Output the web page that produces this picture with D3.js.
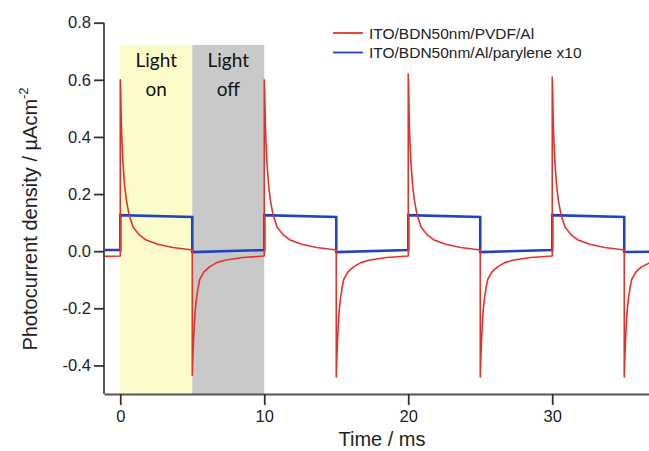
<!DOCTYPE html>
<html>
<head>
<meta http-equiv='Content-Type' content='text/html;charset=utf-8'/>
<title>Photocurrent</title>
<script src='https://d3js.org/d3.v7.min.js'></script>
<style>
  body { margin: 0; background: #fff; }
  text { font-family: Arial, 'Liberation Sans', sans-serif; }
</style>
</head>
<body>
<script>
'use strict';

// red trace: ITO/BDN50nm/PVDF/Al  [time ms, current]
const redSeries = [
  [-1.1,-0.018],[0,-0.017],
  [0,0.60],[0.03,0.56],[0.07,0.45],[0.12,0.38],[0.19,0.31],[0.3,0.23],[0.42,0.18],[0.6,0.13],[0.88,0.085],[1.3,0.058],[1.8,0.039],[2.6,0.024],[3.65,0.013],[5,0.004],
  [5,-0.435],[5.05,-0.36],[5.11,-0.29],[5.2,-0.21],[5.28,-0.17],[5.4,-0.13],[5.51,-0.10],[5.8,-0.073],[6.2,-0.055],[6.7,-0.04],[7.35,-0.031],[8.5,-0.022],[10,-0.017],
  [10,0.60],[10.03,0.56],[10.07,0.45],[10.12,0.38],[10.19,0.31],[10.3,0.23],[10.42,0.18],[10.6,0.13],[10.88,0.085],[11.3,0.058],[11.8,0.039],[12.6,0.024],[13.65,0.013],[15,0.004],
  [15,-0.44],[15.05,-0.36],[15.11,-0.29],[15.2,-0.21],[15.28,-0.17],[15.4,-0.13],[15.51,-0.10],[15.8,-0.073],[16.2,-0.055],[16.7,-0.04],[17.35,-0.031],[18.5,-0.022],[20,-0.017],
  [20,0.62],[20.03,0.57],[20.07,0.45],[20.12,0.38],[20.19,0.31],[20.3,0.23],[20.42,0.18],[20.6,0.13],[20.88,0.085],[21.3,0.058],[21.8,0.039],[22.6,0.024],[23.65,0.013],[25,0.004],
  [25,-0.44],[25.05,-0.36],[25.11,-0.29],[25.2,-0.21],[25.28,-0.17],[25.4,-0.13],[25.51,-0.10],[25.8,-0.073],[26.2,-0.055],[26.7,-0.04],[27.35,-0.031],[28.5,-0.022],[30,-0.017],
  [30,0.61],[30.03,0.56],[30.07,0.45],[30.12,0.38],[30.19,0.31],[30.3,0.23],[30.42,0.18],[30.6,0.13],[30.88,0.085],[31.3,0.058],[31.8,0.039],[32.6,0.024],[33.65,0.013],[35,0.004],
  [35,-0.44],[35.05,-0.36],[35.11,-0.29],[35.2,-0.21],[35.28,-0.17],[35.4,-0.13],[35.51,-0.10],[35.8,-0.073],[36.2,-0.055],[36.8,-0.04]
];

// blue trace: ITO/BDN50nm/Al/parylene x10
const blueSeries = [
  [-1.1,0.004],[0,0.004],
  [0,0.126],[5,0.12],[5,-0.003],[10,0.004],
  [10,0.126],[15,0.12],[15,-0.003],[20,0.004],
  [20,0.126],[25,0.12],[25,-0.003],[30,0.004],
  [30,0.126],[35,0.12],[35,-0.003],[36.8,-0.002]
];

const seriesNames = ['ITO/BDN50nm/PVDF/Al', 'ITO/BDN50nm/Al/parylene x10'];
const seriesColors = ['#e5312b', '#2142c4'];

// shaded light on / light off periods
const shadeSpans = [
  {start: 0, end: 5, top: 0.722, label: ['Light', 'on'], color: '#fcfccb'},
  {start: 5, end: 10, top: 0.722, label: ['Light', 'off'], color: '#c9c9c9'}
];

const yTicks = [-0.4, -0.2, 0.0, 0.2, 0.4, 0.6, 0.8];
const xTicks = [0, 10, 20, 30];

const width = 649, height = 451;
const plot = {left: 104, right: 649, top: 22.7, bottom: 394};

const svg = d3.select('body').append('svg')
  .attr('width', width)
  .attr('height', height);

svg.append('rect').attr('width', width).attr('height', height).attr('fill', '#fff');

const x = d3.scaleLinear().domain([-1.13, 36.72]).range([plot.left, plot.right]);
const y = d3.scaleLinear().domain([-0.5, 0.8]).range([plot.bottom, plot.top]);

svg.append('clipPath').attr('id', 'clip')
  .append('rect')
  .attr('x', plot.left).attr('y', plot.top)
  .attr('width', plot.right - plot.left).attr('height', plot.bottom - plot.top);

// shading
const shade = svg.append('g').selectAll('g').data(shadeSpans).join('g');
shade.append('rect')
  .attr('x', d => x(d.start))
  .attr('y', d => y(d.top))
  .attr('width', d => x(d.end) - x(d.start))
  .attr('height', d => plot.bottom - y(d.top))
  .attr('fill', d => d.color);
shade.each(function(d) {
  const g = d3.select(this);
  d.label.forEach((t, i) => {
    g.append('text')
      .attr('x', (x(d.start) + x(d.end)) / 2)
      .attr('y', y(d.top) + 22 + i * 29)
      .attr('text-anchor', 'middle')
      .style('font-family', 'Lato, "Open Sans", sans-serif')
      .style('font-size', '19px')
      .attr('fill', '#111')
      .text(t);
  });
});

// traces
const line = d3.line()
  .x(d => x(d[0]))
  .y(d => y(d[1]));

const traces = svg.append('g').attr('clip-path', 'url(#clip)');
traces.append('path')
  .datum(blueSeries)
  .attr('fill', 'none')
  .attr('stroke', seriesColors[1])
  .attr('stroke-width', 2.6)
  .attr('d', line);
traces.append('path')
  .datum(redSeries)
  .attr('fill', 'none')
  .attr('stroke', seriesColors[0])
  .attr('stroke-width', 1.6)
  .attr('stroke-linejoin', 'round')
  .attr('d', line);

// axes
const axisColor = '#555';
const yAxis = svg.append('g')
  .attr('transform', `translate(${plot.left},0)`)
  .call(d3.axisLeft(y).tickValues(yTicks).tickSize(10).tickSizeOuter(0).tickPadding(3)
    .tickFormat(d => d.toFixed(1)));
yAxis.select('.domain').attr('d', `M0,${plot.top}V${plot.bottom}`);

const xAxis = svg.append('g')
  .attr('transform', `translate(0,${plot.bottom})`)
  .call(d3.axisBottom(x).tickValues(xTicks).tickSize(11).tickSizeOuter(0).tickPadding(5)
    .tickFormat(d3.format('d')));

[yAxis, xAxis].forEach(a => {
  a.selectAll('.domain').attr('stroke', axisColor).attr('stroke-width', 2);
  a.selectAll('.tick line').attr('stroke', '#333').attr('stroke-width', 1.8);
  a.selectAll('.tick text').attr('fill', '#222')
    .style('font-family', 'Arial, "Liberation Sans", sans-serif')
    .style('font-size', '16.5px');
});

// axis titles
svg.append('text')
  .attr('x', 382)
  .attr('y', 446)
  .attr('text-anchor', 'middle')
  .style('font-size', '20px')
  .attr('fill', '#222')
  .text('Time / ms');

const yTitle = svg.append('text')
  .attr('transform', `translate(37,219) rotate(-90)`)
  .attr('text-anchor', 'middle')
  .style('font-size', '20px')
  .attr('fill', '#222');
yTitle.append('tspan').text('Photocurrent density / \u00b5Acm');
yTitle.append('tspan').attr('dy', -9).style('font-size', '13px').text('-2');

// legend
const legend = svg.append('g').attr('transform', 'translate(333,33)');
seriesNames.forEach((name, i) => {
  const row = legend.append('g').attr('transform', `translate(0,${i * 19.5})`);
  row.append('line')
    .attr('x1', 0).attr('x2', 30)
    .attr('stroke', seriesColors[i]).attr('stroke-width', 1.8);
  row.append('text')
    .attr('x', 36).attr('y', 5.5)
    .style('font-size', '15.5px')
    .attr('fill', '#222')
    .text(name);
});
</script>
</body>
</html>
